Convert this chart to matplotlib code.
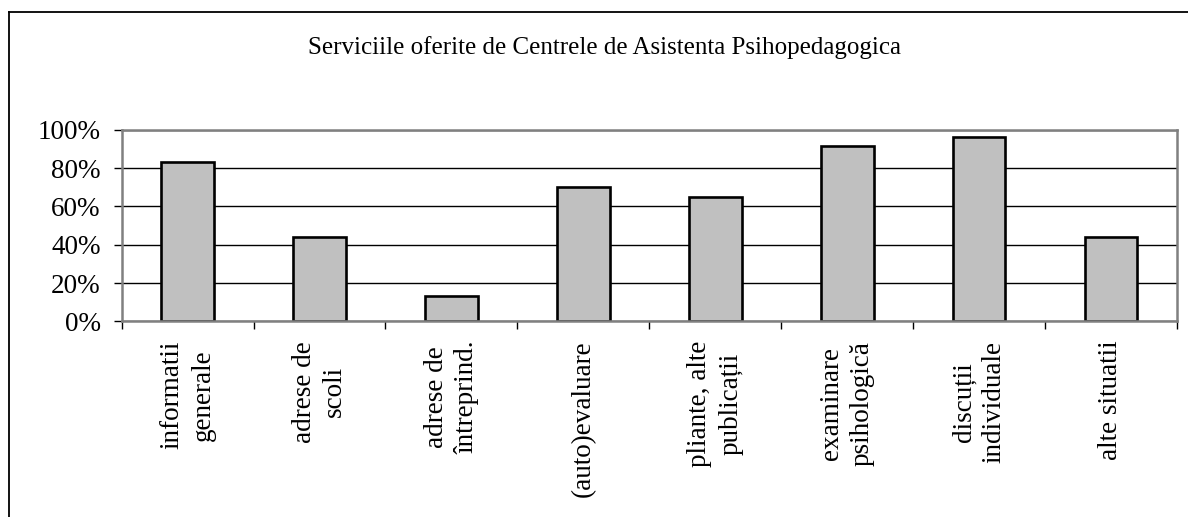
import numpy as np
import matplotlib
matplotlib.use("Agg")
import matplotlib.pyplot as plt
from matplotlib.lines import Line2D
from matplotlib.ticker import FixedLocator, PercentFormatter
from matplotlib.transforms import offset_copy

# --- date ---
categorii = [
    "informatii\ngenerale",
    "adrese de\nscoli",
    "adrese de\nîntreprind.",
    "(auto)evaluare",
    "pliante, alte\npublicații",
    "examinare\npsihologică",
    "discuții\nindividuale",
    "alte situatii",
]
procente = [0.83, 0.44, 0.13, 0.70, 0.65, 0.915, 0.96, 0.44]
y_ticks = [0.0, 0.2, 0.4, 0.6, 0.8, 1.0]
titlu = "Serviciile oferite de Centrele de Asistenta Psihopedagogica"

plt.rcParams["font.family"] = ["Liberation Serif", "DejaVu Serif"]

fig = plt.figure(figsize=(11.88, 5.17), dpi=100)
ax = fig.add_axes([0.1024, 0.3785, 0.9907 - 0.1024, 0.749 - 0.3785])

x = np.arange(len(categorii))
ax.bar(x, procente, width=0.4, color="#C0C0C0", edgecolor="black",
       linewidth=1.9, zorder=3)

ax.set_xlim(-0.5, len(categorii) - 0.5)
ax.set_ylim(0, 1)

# axa y
ax.set_yticks(y_ticks)
ax.yaxis.set_major_formatter(PercentFormatter(1.0, decimals=0))
ax.yaxis.grid(True, color="black", linewidth=1.0, zorder=1)
ax.tick_params(axis="y", direction="out", length=6, width=1, color="black",
               labelsize=19.5, pad=9)

# axa x: bife intre categorii, etichete la mijloc (text rotit, centrat)
ax.xaxis.set_major_locator(FixedLocator(np.arange(len(categorii) + 1) - 0.5))
ax.xaxis.set_major_formatter(plt.NullFormatter())
ax.tick_params(axis="x", which="major", direction="out", length=6, width=1,
               color="black")
trans = offset_copy(ax.get_xaxis_transform(), fig=fig, y=-14, units="points")
for xi, lab in zip(x, categorii):
    ax.text(xi, 0, lab, transform=trans, rotation=90, ha="center", va="top",
            multialignment="center", linespacing=1.3, fontsize=19.5,
            clip_on=False)

for s in ax.spines.values():
    s.set_color("#808080")
    s.set_linewidth(1.8)
    s.set_zorder(4)

fig.text(604 / 1188, 1 - 48 / 517, titlu, ha="center", va="center",
         fontsize=18)

# chenarul graficului
bx, by = 9 / 1188, 1 - 12 / 517
fig.add_artist(Line2D([bx, bx], [0, by], transform=fig.transFigure,
                      color="black", linewidth=1.3))
fig.add_artist(Line2D([bx, 1], [by, by], transform=fig.transFigure,
                      color="black", linewidth=1.3))

fig.savefig("out.png", dpi=100)
